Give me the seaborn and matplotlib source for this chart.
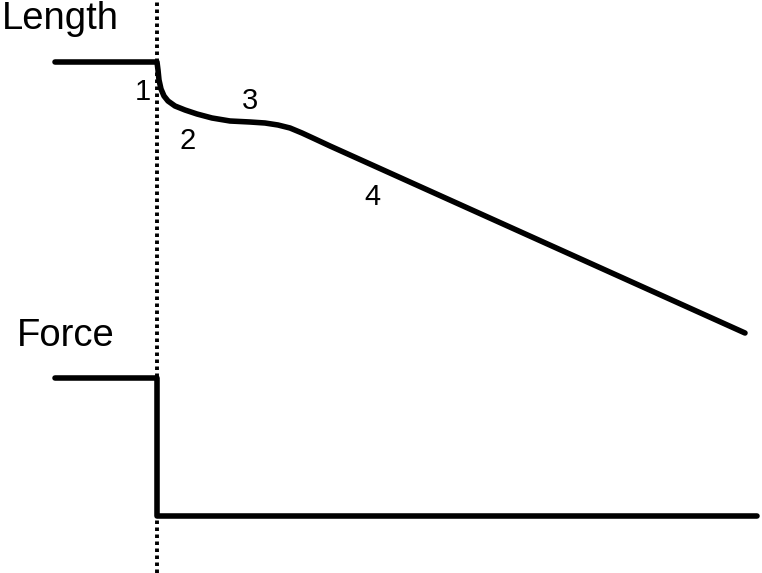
import numpy as np
import pandas as pd
import matplotlib
matplotlib.use("Agg")
import matplotlib.pyplot as plt
import seaborn as sns

# schematic traces, in picture units (x to the right, y downwards)
length_x = [55, 157, 158, 159, 161, 164, 168, 175, 185, 197, 212, 230, 250, 265, 278, 290, 302, 315, 330, 745]
length_y = [62, 62, 70, 80, 89, 96, 101, 106, 110, 114, 118, 121, 122, 123, 125, 128, 133, 139, 146, 333]

force_x = [55, 157, 157, 757]
force_y = [378, 378, 516, 516]

step_x = 157

labels = ["1", "2", "3", "4"]
label_x = [143, 188, 250, 372]
label_y = [92, 141, 101, 197]

sns.set_style("white")
plt.rcParams['font.family'] = ['Liberation Sans', 'DejaVu Sans']

fig = plt.figure(figsize=(7.62, 5.73), dpi=100)
ax = fig.add_axes([0, 0, 1, 1])

length = pd.DataFrame({"x": length_x, "y": length_y})
force = pd.DataFrame({"x": force_x, "y": force_y})

sns.lineplot(data=length, x="x", y="y", sort=False, estimator=None,
             color="black", lw=4, ax=ax)
sns.lineplot(data=force, x="x", y="y", sort=False, estimator=None,
             color="black", lw=4, ax=ax)
ax.axvline(step_x, color="black", lw=2.8, ls=(0, (0.9, 0.9)), zorder=0)

for t, x, y in zip(labels, label_x, label_y):
    ax.text(x, y, t, fontsize=21, ha="center", va="center", color="black")

ax.text(2, 19, "Length", fontsize=27.5, ha="left", va="center", color="black")
ax.text(17, 336, "Force", fontsize=27.5, ha="left", va="center", color="black")

ax.set_xlim(0, 762)
ax.set_ylim(573, 0)
ax.axis("off")

fig.savefig("out.png", dpi=100)
